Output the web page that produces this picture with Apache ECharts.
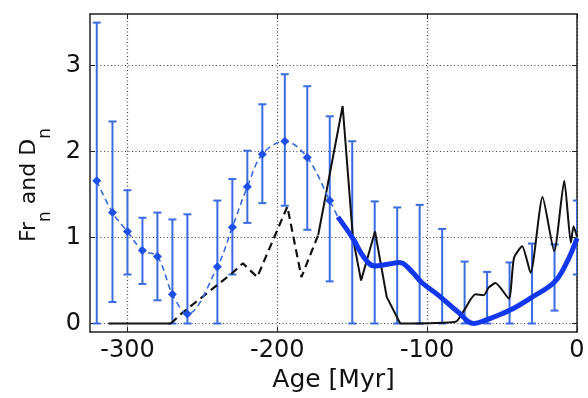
<!DOCTYPE html>
<html><head><meta charset="utf-8">
<script src="https://cdn.jsdelivr.net/npm/echarts@6/dist/echarts.min.js"></script>
<style>html,body{margin:0;padding:0;background:#fff}#c{width:588px;height:398px}</style>
</head><body><div id="c"></div>
<script>
// ---- data ----
const xTicks = [-300, -200, -100, 0];
const yTicks = [0, 1, 2, 3];

// older interval: points with error bars (dashed blue curve)
const oldAges = [-320.5, -310, -300, -290, -280, -270, -260, -240, -230, -220, -210, -195, -180, -165];
const oldRate = [1.66, 1.29, 1.07, 0.85, 0.78, 0.34, 0.11, 0.66, 1.12, 1.59, 1.97, 2.12, 1.93, 1.43];
const oldLow  = [0, 0.25, 0.57, 0.46, 0.27, 0, 0, 0, 0.57, 1.17, 1.40, 1.37, 1.09, 0.49];
const oldHigh = [3.50, 2.35, 1.55, 1.23, 1.29, 1.21, 1.27, 1.43, 1.68, 2.01, 2.55, 2.90, 2.76, 2.41];
// dashed curve continues to the start of the thick curve
const dashTailAge = [-159.6];
const dashTailRate = [1.24];

// recent interval: error bars
const recentAges = [-150, -135, -120, -105, -90, -75, -60, -45, -30, -15, 0];
const recentLow  = [0, 0, 0, 0, 0, 0, 0, 0, 0, 0.15, 0.57];
const recentHigh = [2.12, 1.42, 1.35, 1.38, 1.10, 0.72, 0.60, 0.71, 0.93, 0.92, 1.43];

// thick blue curve
const fitAges = [-159.6, -149.6, -141.8, -135.2, -126.2, -118.4, -110.5, -103.8, -92.6, -79.2, -68.7, -60.9, -45.3, -29.7, -15.2, -7.4, 0];
const fitRate = [1.24, 0.99, 0.76, 0.67, 0.69, 0.71, 0.61, 0.48, 0.33, 0.13, 0.0, 0.04, 0.15, 0.31, 0.48, 0.69, 0.99];

// black curve: solid (old), dashed, solid peak, solid recent
const blackOldAges = [-312.7, -271];
const blackOldVals = [0, 0];
const blackDashAges = [-271, -264.4, -229.8, -223, -213.4, -193.3, -183.9, -172.7];
const blackDashVals = [0, 0.11, 0.59, 0.70, 0.54, 1.36, 0.54, 1.03];
const blackPeakAges = [-172.7, -156.4, -149.5, -144.1, -134.8, -127, -118];
const blackPeakVals = [1.03, 2.53, 0.99, 0.50, 1.07, 0.31, 0];
const blackAges = [-118, -81, -75.5, -67.8, -62.2, -58.9, -54.4, -45.5, -42.1, -36.6, -31, -23, -15.2, -8.5, -4.1, -2.3, 0];
const blackVals = [0, 0.02, 0.15, 0.34, 0.33, 0.42, 0.47, 0.29, 0.76, 0.90, 0.59, 1.47, 0.84, 1.66, 0.94, 1.13, 1.01];

// ---- build ----
const zip = (a, b) => a.map((v, i) => [v, b[i]]);
const zip3 = (a, b, c) => a.map((v, i) => [v, b[i], c[i]]);
const BAR = '#3b6be3';
const FONT = 'DejaVu Sans';

function errRender(params, api) {
  const x = api.value(0), lo = api.value(1), hi = api.value(2);
  const p1 = api.coord([x, lo]), p2 = api.coord([x, hi]);
  const w = 4;
  const st = { stroke: BAR, lineWidth: 2 };
  return { type: 'group', children: [
    { type: 'line', shape: { x1: p1[0], y1: p1[1], x2: p2[0], y2: p2[1] }, style: st },
    { type: 'line', shape: { x1: p1[0] - w, y1: p1[1], x2: p1[0] + w, y2: p1[1] }, style: st },
    { type: 'line', shape: { x1: p2[0] - w, y1: p2[1], x2: p2[0] + w, y2: p2[1] }, style: st }
  ]};
}

const dashData = zip(oldAges, oldRate).concat(
  dashTailAge.map((a, i) => ({ value: [a, dashTailRate[i]], symbolSize: 0 })));

const frameLine = { show: true, onZero: false, lineStyle: { color: '#222', width: 1.5 } };
const tickIn = { show: true, inside: true, length: 5, lineStyle: { color: '#222', width: 1 } };
const gridLine = { show: true, lineStyle: { type: [1, 2.5], color: '#444', width: 1.2 } };

const option = {
  backgroundColor: '#fff',
  animation: false,
  grid: { left: 90, right: 11, top: 14, bottom: 62, containLabel: false },
  xAxis: [{
    type: 'value', min: -325, max: 0, position: 'bottom',
    axisLine: frameLine,
    axisTick: Object.assign({}, tickIn, { customValues: xTicks }),
    axisLabel: { customValues: xTicks, fontFamily: FONT, fontSize: 24, color: '#111', margin: 7 },
    splitLine: gridLine,
    name: 'Age [Myr]', nameLocation: 'middle', nameGap: 32,
    nameTextStyle: { fontFamily: FONT, fontSize: 25, color: '#111' }
  }, {
    type: 'value', min: -325, max: 0, position: 'top',
    axisLine: frameLine,
    axisTick: Object.assign({}, tickIn, { customValues: xTicks }),
    axisLabel: { show: false }, splitLine: { show: false }
  }],
  yAxis: [{
    type: 'value', min: -0.1, max: 3.6, position: 'left',
    axisLine: frameLine,
    axisTick: Object.assign({}, tickIn, { customValues: yTicks }),
    axisLabel: { customValues: yTicks, fontFamily: FONT, fontSize: 24, color: '#111', margin: 9 },
    splitLine: gridLine,
    name: 'Fr{s|n} and D{s|n}', nameLocation: 'middle', nameRotate: 90, nameGap: 36,
    nameTextStyle: { fontFamily: FONT, fontSize: 22, color: '#111', padding: [0, 24, 0, 0],
      rich: { s: { fontFamily: FONT, fontSize: 17, color: '#111', padding: [33, 0, 0, 0] } } }
  }, {
    type: 'value', min: -0.1, max: 3.6, position: 'right',
    axisLine: frameLine,
    axisTick: Object.assign({}, tickIn, { customValues: yTicks }),
    axisLabel: { show: false }, splitLine: { show: false }
  }],
  series: [
    { type: 'custom', renderItem: errRender, data: zip3(oldAges, oldLow, oldHigh),
      encode: { x: 0, y: [1, 2] }, clip: true, z: 2 },
    { type: 'custom', renderItem: errRender, data: zip3(recentAges, recentLow, recentHigh),
      encode: { x: 0, y: [1, 2] }, clip: true, z: 2 },
    { type: 'line', data: zip(blackOldAges, blackOldVals), symbol: 'none',
      lineStyle: { color: '#111', width: 2 }, z: 3 },
    { type: 'line', data: zip(blackDashAges, blackDashVals), symbol: 'none',
      lineStyle: { color: '#111', width: 2.2, type: [8, 5] }, z: 3 },
    { type: 'line', data: zip(blackPeakAges, blackPeakVals), symbol: 'none',
      lineStyle: { color: '#111', width: 2 }, z: 3 },
    { type: 'line', data: zip(blackAges, blackVals), symbol: 'none', smooth: 0.2,
      lineStyle: { color: '#111', width: 2 }, z: 3 },
    { type: 'line', data: dashData, smooth: 0.35, symbol: 'diamond', symbolSize: 9,
      itemStyle: { color: '#1f50e6' },
      lineStyle: { color: '#3b6be3', width: 1.6, type: [6, 4] }, z: 4 },
    { type: 'line', data: zip(fitAges, fitRate), smooth: 0.4, symbol: 'none',
      lineStyle: { color: '#1238ee', width: 5 }, z: 5 }
  ]
};
echarts.init(document.getElementById('c'), null, { renderer: 'canvas' }).setOption(option);
</script></body></html>
